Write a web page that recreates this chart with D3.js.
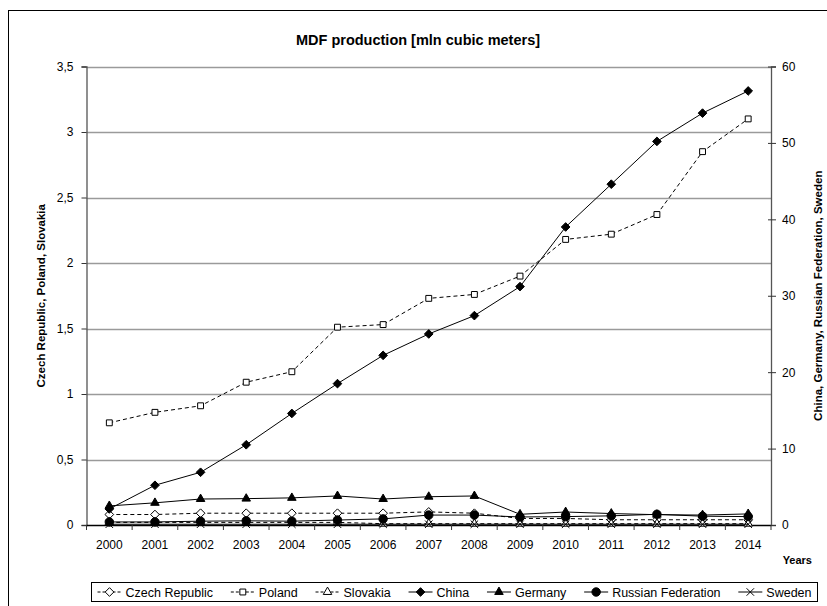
<!DOCTYPE html>
<html>
<head>
<meta charset="utf-8">
<script src="https://cdn.jsdelivr.net/npm/d3@7"></script>
<style>
  html, body { margin: 0; padding: 0; background: #fff; }
  svg { display: block; }
  text { font-family: "Liberation Sans", Arial, sans-serif; fill: #000; }
</style>
</head>
<body>
<svg id="chart" width="827" height="606"></svg>
<script>
// Years on the category axis
const years = [2000, 2001, 2002, 2003, 2004, 2005, 2006, 2007, 2008, 2009, 2010, 2011, 2012, 2013, 2014];

// Primary axis series (mln m3)
const czechRepublic = [0.08, 0.08, 0.09, 0.09, 0.09, 0.09, 0.09, 0.10, 0.09, 0.05, 0.05, 0.04, 0.04, 0.04, 0.04];
const poland        = [0.78, 0.86, 0.91, 1.09, 1.17, 1.51, 1.53, 1.73, 1.76, 1.90, 2.18, 2.22, 2.37, 2.85, 3.10];
const slovakia      = [0.02, 0.02, 0.02, 0.02, 0.02, 0.02, 0.01, 0.01, 0.01, 0.01, 0.01, 0.01, 0.01, 0.01, 0.01];

// Secondary axis series (mln m3)
const china   = [2.1, 5.2, 6.9, 10.5, 14.6, 18.5, 22.2, 25.0, 27.4, 31.2, 39.0, 44.6, 50.2, 53.9, 56.8];
const germany = [2.5, 2.9, 3.4, 3.45, 3.55, 3.8, 3.4, 3.7, 3.8, 1.4, 1.7, 1.5, 1.35, 1.3, 1.45];
const russianFederation = [0.4, 0.4, 0.5, 0.55, 0.5, 0.65, 0.8, 1.3, 1.3, 1.05, 1.1, 1.2, 1.4, 1.15, 1.1];
const sweden  = [0.1, 0.1, 0.1, 0.1, 0.1, 0.1, 0.1, 0.1, 0.1, 0.1, 0.1, 0.1, 0.1, 0.1, 0.1];

// Tick labels
const leftTicks  = [0, 0.5, 1, 1.5, 2, 2.5, 3, 3.5];
const rightTicks = [0, 10, 20, 30, 40, 50, 60];

const svg = d3.select("#chart");
const plot = { left: 86.5, right: 771, top: 66.5, bottom: 525 };

// Outer chart frame
svg.append("rect").attr("x", 8.5).attr("y", 10.5).attr("width", 840).attr("height", 620)
  .attr("fill", "#fff").attr("stroke", "#000").attr("stroke-width", 1);

const x = d3.scaleBand().domain(years).range([plot.left, plot.right]);
const yL = d3.scaleLinear().domain([0, 3.5]).range([plot.bottom, plot.top]);
const yR = d3.scaleLinear().domain([0, 60]).range([plot.bottom, plot.top]);
const cx = d => x(d) + x.bandwidth() / 2;

// Title
svg.append("text").attr("x", 418).attr("y", 45).attr("text-anchor", "middle")
  .attr("font-size", 14.5).attr("font-weight", "bold")
  .text("MDF production [mln cubic meters]");

// Horizontal gridlines
svg.append("g").selectAll("line").data(leftTicks.filter(v => v > 0)).join("line")
  .attr("x1", plot.left).attr("x2", plot.right)
  .attr("y1", d => Math.round(yL(d)) + 0.5).attr("y2", d => Math.round(yL(d)) + 0.5)
  .attr("stroke", "#9a9a9a").attr("stroke-width", 1.3);

// Left axis
const fmt = d => String(d).replace(".", ",");
const gL = svg.append("g").attr("transform", `translate(${plot.left},0)`)
  .call(d3.axisLeft(yL).tickValues(leftTicks).tickFormat(fmt).tickSize(5).tickPadding(8));
gL.select(".domain").attr("stroke", "#555").attr("stroke-width", 1.3);
gL.selectAll(".tick line").attr("stroke", "#333");
gL.selectAll(".tick text").attr("font-size", 12).attr("font-family", "Liberation Sans, Arial, sans-serif");

// Right axis
const gR = svg.append("g").attr("transform", `translate(${plot.right},0)`)
  .call(d3.axisRight(yR).tickValues(rightTicks).tickSize(5).tickPadding(6));
gR.select(".domain").attr("stroke", "#555").attr("stroke-width", 1.3);
gR.selectAll(".tick line").attr("stroke", "#333").attr("x1", -3);
gR.selectAll(".tick text").attr("font-size", 12).attr("font-family", "Liberation Sans, Arial, sans-serif");

// Bottom axis: ticks at band boundaries
const gB = svg.append("g").attr("transform", `translate(0,${plot.bottom})`);
gB.append("line").attr("x1", plot.left).attr("x2", plot.right).attr("y1", 0.5).attr("y2", 0.5)
  .attr("stroke", "#000").attr("stroke-width", 1.3);
gB.selectAll("line.tk").data(years.concat(["end"])).join("line").attr("class", "tk")
  .attr("x1", d => d === "end" ? plot.right : x(d)).attr("x2", d => d === "end" ? plot.right : x(d))
  .attr("y1", 0).attr("y2", 5).attr("stroke", "#333");
gB.selectAll("text").data(years).join("text")
  .attr("x", d => cx(d)).attr("y", 24).attr("text-anchor", "middle")
  .attr("font-size", 12).text(d => d);

// Axis titles
svg.append("text").attr("transform", `translate(45,${(plot.top + plot.bottom) / 2}) rotate(-90)`)
  .attr("text-anchor", "middle").attr("font-size", 11.5).attr("font-weight", "bold")
  .text("Czech Republic, Poland, Slovakia");
svg.append("text").attr("transform", `translate(822,${(plot.top + plot.bottom) / 2}) rotate(-90)`)
  .attr("text-anchor", "middle").attr("font-size", 11.5).attr("font-weight", "bold")
  .text("China, Germany, Russian Federation, Sweden");
svg.append("text").attr("x", 812).attr("y", 564).attr("text-anchor", "end")
  .attr("font-size", 11).attr("font-weight", "bold").text("Years");

// Series definitions
const series = [
  { name: "Czech Republic", values: czechRepublic, scale: yL, dash: "4,3", marker: "diamond", fill: "#fff" },
  { name: "Poland", values: poland, scale: yL, dash: "4,3", marker: "square", fill: "#fff" },
  { name: "Slovakia", values: slovakia, scale: yL, dash: "4,3", marker: "triangle", fill: "#fff" },
  { name: "China", values: china, scale: yR, dash: null, marker: "diamond", fill: "#000" },
  { name: "Germany", values: germany, scale: yR, dash: null, marker: "triangle", fill: "#000" },
  { name: "Russian Federation", values: russianFederation, scale: yR, dash: null, marker: "circle", fill: "#000" },
  { name: "Sweden", values: sweden, scale: yR, dash: null, marker: "cross", fill: "none" }
];

const symbolPath = {
  diamond: d3.symbol(d3.symbolDiamond2, 48)(),
  square: d3.symbol(d3.symbolSquare2, 44)(),
  triangle: d3.symbol(d3.symbolTriangle2, 52)(),
  circle: d3.symbol(d3.symbolCircle, 56)(),
  cross: d3.symbol(d3.symbolX, 38)()
};

function drawMarker(g, s, px, py) {
  g.append("path").attr("d", symbolPath[s.marker])
    .attr("transform", `translate(${px},${py})`)
    .attr("fill", s.marker === "cross" ? "none" : s.fill)
    .attr("stroke", "#000").attr("stroke-width", 1);
}

const line = d3.line();
series.forEach(s => {
  const pts = years.map((yr, i) => [cx(yr), s.scale(s.values[i])]);
  const g = svg.append("g");
  g.append("path").attr("d", line(pts)).attr("fill", "none")
    .attr("stroke", "#000").attr("stroke-width", 1)
    .attr("stroke-dasharray", s.dash);
  pts.forEach(p => drawMarker(g, s, p[0], p[1]));
});

// Legend: entries spread across the full box width
const lg = svg.append("g");
const box = { x: 91.5, y: 582.5, w: 726, h: 19 };
lg.append("rect").attr("x", box.x).attr("y", box.y).attr("width", box.w).attr("height", box.h)
  .attr("fill", "#fff").attr("stroke", "#000");
const entries = series.map(s => {
  const it = lg.append("g");
  it.append("line").attr("x1", 0).attr("x2", 24).attr("y1", 0).attr("y2", 0)
    .attr("stroke", "#000").attr("stroke-dasharray", s.dash ? "3,2" : null);
  drawMarker(it, s, 12, 0);
  const t = it.append("text").attr("x", 28).attr("y", 4.5).attr("font-size", 12.5)
    .attr("font-family", "'Liberation Sans Narrow', 'Arial Narrow', 'Liberation Sans', sans-serif")
    .text(s.name);
  return { g: it, w: 28 + t.node().getComputedTextLength() };
});
const inner = box.w - 12;
const gap = (inner - d3.sum(entries, e => e.w)) / (entries.length - 1);
let cur = box.x + 6;
entries.forEach(e => {
  e.g.attr("transform", `translate(${cur},${box.y + box.h / 2})`);
  cur += e.w + gap;
});
</script>
</body>
</html>
